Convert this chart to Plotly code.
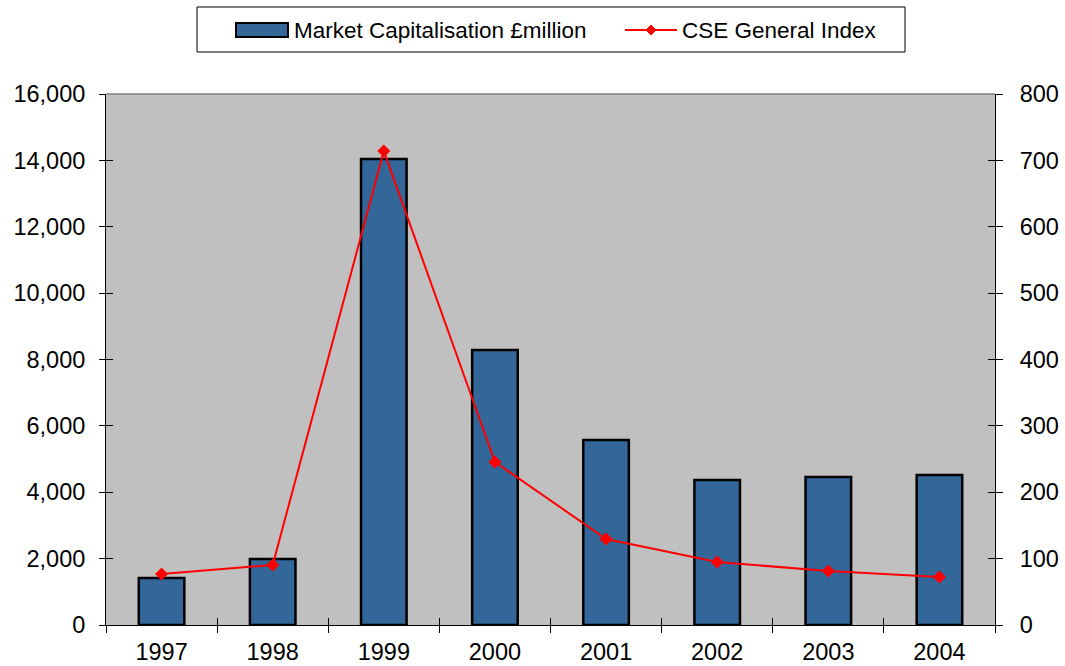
import plotly.graph_objects as go

years = ["1997", "1998", "1999", "2000", "2001", "2002", "2003", "2004"]
market_cap = [1416, 1989, 14042, 8286, 5574, 4369, 4460, 4520]
cse_index = [76.8, 90.4, 714, 245.6, 129.6, 94.9, 81.4, 72.3]
bar_name = "Market Capitalisation £million"
line_name = "CSE General Index"

W, H = 1065, 666
L, R, T, B = 106, 70, 94, 41
PW, PH = W - L - R, H - T - B


def px(x):
    return (x - L) / PW


def py(y):
    return (H - B - y) / PH


font = "Liberation Sans, Arial, sans-serif"
BAR_COLOR = "#336699"
RED = "#FF0000"

fig = go.Figure()
fig.add_trace(go.Bar(
    x=years, y=market_cap, name=bar_name,
    marker=dict(color=BAR_COLOR, line=dict(color="black", width=2.5)),
    width=0.41, yaxis="y", xaxis="x",
))
fig.add_trace(go.Scatter(
    x=years, y=cse_index, name=line_name, mode="lines+markers",
    line=dict(color=RED, width=2),
    marker=dict(symbol="diamond", size=10, color=RED),
    yaxis="y2", xaxis="x",
))

tickfont = dict(size=23.5, family=font, color="black")
fig.update_layout(
    width=W, height=H,
    margin=dict(l=L, r=R, t=T, b=B, autoexpand=False),
    paper_bgcolor="white", plot_bgcolor="#C0C0C0",
    font=dict(family=font, size=22, color="black"),
    showlegend=False,
    xaxis=dict(
        showline=True, linecolor="black", linewidth=1,
        ticks="outside", tickson="boundaries", ticklen=7, tickcolor="black",
        showgrid=False, tickfont=tickfont, ticklabelstandoff=6,
        categoryorder="array", categoryarray=years,
    ),
    xaxis2=dict(
        overlaying="x", matches="x", ticks="inside", tickson="boundaries",
        ticklen=7, tickcolor="black", showticklabels=False, showgrid=False,
        showline=False, categoryorder="array", categoryarray=years,
    ),
    yaxis=dict(
        range=[0, 16000], dtick=2000, tickformat=",d",
        showline=True, linecolor="black", linewidth=1,
        ticks="outside", ticklen=6, tickcolor="black",
        showgrid=False, zeroline=False, tickfont=tickfont, ticklabelstandoff=9,
    ),
    yaxis3=dict(
        range=[0, 16000], dtick=2000, overlaying="y", side="left",
        ticks="inside", ticklen=7, tickcolor="black", showticklabels=False,
        showgrid=False, zeroline=False, showline=False,
    ),
    yaxis2=dict(
        range=[0, 800], dtick=100, overlaying="y", side="right",
        showline=True, linecolor="black", linewidth=1,
        ticks="outside", ticklen=7, tickcolor="black",
        showgrid=False, zeroline=False, tickfont=tickfont, ticklabelstandoff=12,
    ),
    yaxis4=dict(
        range=[0, 800], dtick=100, overlaying="y", side="right",
        ticks="inside", ticklen=7, tickcolor="black", showticklabels=False,
        showgrid=False, zeroline=False, showline=False,
    ),
)
# invisible traces to activate the overlay tick axes
fig.add_trace(go.Scatter(x=years, y=market_cap, xaxis="x2", yaxis="y3",
                         mode="none", showlegend=False, hoverinfo="skip"))
fig.add_trace(go.Scatter(x=years, y=cse_index, xaxis="x2", yaxis="y4",
                         mode="none", showlegend=False, hoverinfo="skip"))

shapes = [
    # top edge of plot area
    dict(type="line", xref="paper", yref="paper", x0=0, x1=1, y0=1, y1=1,
         line=dict(color="#808080", width=1.5)),
    # legend box
    dict(type="rect", xref="paper", yref="paper",
         x0=px(197), x1=px(905), y0=py(52), y1=py(7),
         line=dict(color="black", width=1), fillcolor="white"),
    # bar swatch
    dict(type="rect", xref="paper", yref="paper",
         x0=px(236), x1=px(288), y0=py(37), y1=py(23),
         line=dict(color="black", width=2), fillcolor=BAR_COLOR),
    # line swatch
    dict(type="line", xref="paper", yref="paper",
         x0=px(625), x1=px(677), y0=py(30), y1=py(30),
         line=dict(color=RED, width=2)),
    # diamond marker in legend
    dict(type="path", xref="paper", yref="paper",
         path=f"M {px(646)} {py(30)} L {px(651)} {py(25)} L {px(656)} {py(30)} L {px(651)} {py(35)} Z",
         line=dict(color=RED, width=1), fillcolor=RED),
]
annotations = [
    dict(text=bar_name, xref="paper", yref="paper", x=px(292), y=py(30),
         xanchor="left", yanchor="middle", showarrow=False,
         font=dict(size=22.5, family=font, color="black")),
    dict(text=line_name, xref="paper", yref="paper", x=px(680), y=py(30),
         xanchor="left", yanchor="middle", showarrow=False,
         font=dict(size=22.5, family=font, color="black")),
]
fig.update_layout(shapes=shapes, annotations=annotations)
fig.write_html(
    "out.html",
    config={"displayModeBar": False},
    post_script="document.body.style.margin='0';document.body.style.overflow='hidden';",
)
